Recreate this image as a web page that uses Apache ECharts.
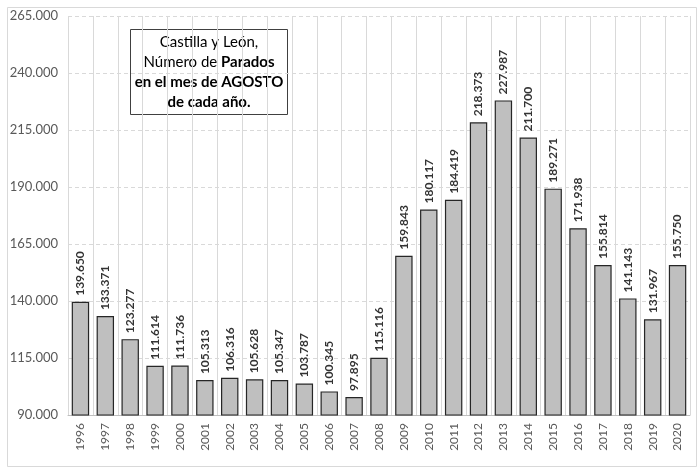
<!DOCTYPE html>
<html>
<head>
<meta charset="utf-8">
<script src="https://cdn.jsdelivr.net/npm/echarts@6/dist/echarts.min.js"></script>
<style>
  html, body { margin: 0; padding: 0; background: #fff; }
  #chart { width: 700px; height: 468px; }
</style>
</head>
<body>
<div id="chart"></div>
<script>
// años y número de parados en agosto
const years = ['1996','1997','1998','1999','2000','2001','2002','2003','2004','2005','2006','2007','2008',
  '2009','2010','2011','2012','2013','2014','2015','2016','2017','2018','2019','2020'];
const parados = [139650,133371,123277,111614,111736,105313,106316,105628,105347,103787,100345,97895,115116,
  159843,180117,184419,218373,227987,211700,189271,171938,155814,141143,131967,155750];
const yMin = 90000;
const yMax = 265000;
const yStep = 25000;

function fmt(v) {
  return String(v).replace(/\B(?=(\d{3})+(?!\d))/g, '.');
}

const chart = echarts.init(document.getElementById('chart'));
const font = 'Lato, "Liberation Sans", sans-serif';

chart.setOption({
  animation: false,
  backgroundColor: '#fff',
  textStyle: { fontFamily: font },
  grid: { left: 68, right: 10, top: 16, bottom: 53 },
  xAxis: {
    type: 'category',
    data: years,
    axisLine: { lineStyle: { color: '#bfbfbf' } },
    axisTick: { show: false },
    axisLabel: { rotate: 90, color: '#595959', fontSize: 12, margin: 8 },
    splitLine: { show: true, lineStyle: { color: '#d9d9d9', width: 1 } }
  },
  yAxis: {
    type: 'value',
    min: yMin,
    max: yMax,
    interval: yStep,
    axisLine: { show: false },
    axisTick: { show: false },
    axisLabel: { color: '#595959', fontSize: 13, margin: 10, formatter: v => fmt(v) },
    splitLine: { lineStyle: { color: '#d9d9d9', type: [4, 3] } }
  },
  series: [{
    type: 'bar',
    data: parados,
    barCategoryGap: '30%',
    itemStyle: { color: '#bfbfbf', borderColor: '#262626', borderWidth: 1.2 },
    label: {
      show: true,
      position: 'top',
      rotate: 90,
      align: 'left',
      verticalAlign: 'middle',
      distance: 6,
      color: '#333',
      fontWeight: 'bold',
      fontSize: 12,
      formatter: p => fmt(p.value)
    }
  }],
  graphic: [
    {
      type: 'rect',
      left: 5, top: 5,
      shape: { width: 689, height: 459 },
      style: { fill: null, stroke: '#d9d9d9', lineWidth: 1 },
      silent: true
    },
    {
      type: 'group',
      left: 130, top: 29,
      children: [
        {
          type: 'rect',
          shape: { x: 0, y: 0, width: 157, height: 85 },
          style: { fill: '#fff', stroke: '#404040', lineWidth: 1 }
        },
        {
          type: 'text',
          x: 78.5, y: 43,
          style: {
            text: '{n|Castilla y León,}\n{n|Número de }{b|Parados}\n{b|en el mes de AGOSTO}\n{b|de cada año.}',
            align: 'center',
            verticalAlign: 'middle',
            fontFamily: font,
            rich: {
              n: { fontSize: 15, color: '#404040', lineHeight: 20, fontFamily: font },
              b: { fontSize: 15, color: '#262626', fontWeight: 'bold', lineHeight: 20, fontFamily: font }
            }
          }
        }
      ]
    }
  ]
});
</script>
</body>
</html>
